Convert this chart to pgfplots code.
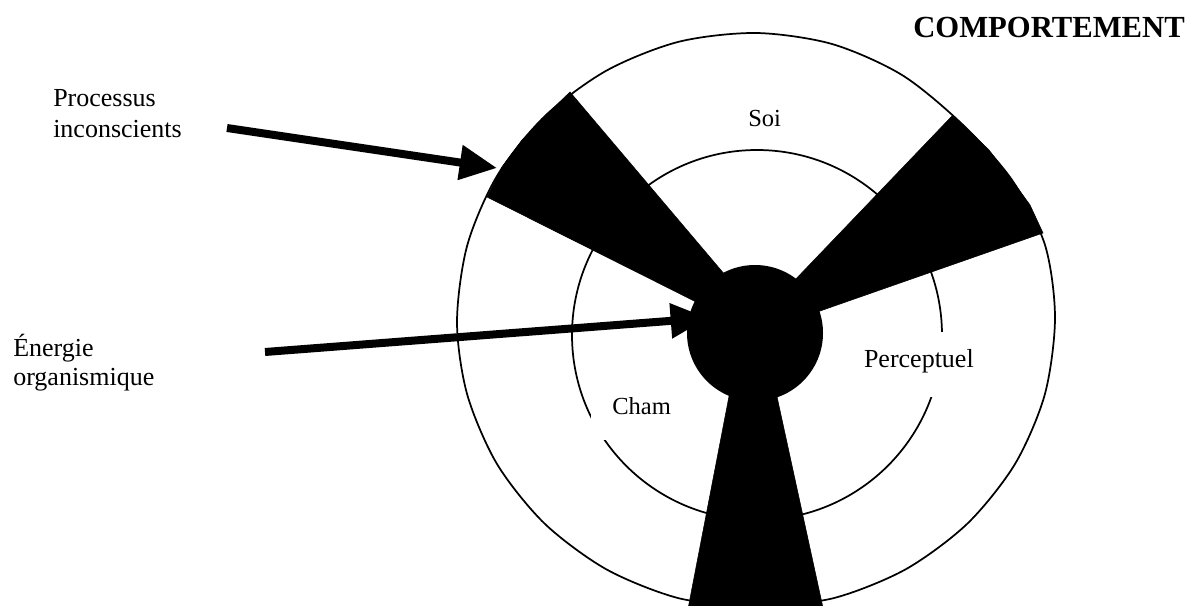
\documentclass[border=0pt]{standalone}
\usepackage{pgfplots}
\pgfplotsset{compat=1.18}
\usepackage{fontspec}
\setmainfont{Liberation Serif}
\usetikzlibrary{arrows.meta}
\begin{document}
\begin{tikzpicture}
\begin{axis}[
  width=902.25pt, height=454.5pt, scale only axis,
  xmin=0, xmax=1203, ymin=0, ymax=606, y dir=reverse,
  axis lines=none, ticks=none, clip=true,
]
% outer circle (slightly irregular, as drawn)
\addplot[smooth, draw=black, line width=1.3pt, mark=none] coordinates {
 (756,608) (833.4,598.2) (905.5,569.4) (967.4,523.6) (1015,464) (1044.8,394.5)
 (1055,318) (1045,245) (1012,180) (962,124) (902,75) (832,44) (756,33)
 (678.6,41.8) (606.5,70.6) (544.6,116.4) (497,176) (467.2,245.5) (457,322)
 (467.2,394.5) (497,464) (544.6,523.6) (606.5,569.4) (678.6,598.2) (756,608)};
% middle circle
\draw[line width=1.3pt] (axis cs:757,335) circle [radius=185];
% white gaps behind labels
\fill[white] (axis cs:591,385) rectangle (axis cs:676,440);
\fill[white] (axis cs:858,332) rectangle (axis cs:980,397);
% wedges
\addplot[fill=black, draw=black] coordinates {(570,92) (545,116) (522,140) (502,167) (487,197) (742,325) (742,295)} --cycle;
\addplot[fill=black, draw=black] coordinates {(952,116) (962,124) (989,150) (1012,180) (1030,205) (1043,233) (780,325) (770,306)} --cycle;
\addplot[fill=black, draw=black] coordinates {(736,360) (769,360) (830,640) (682,640)} --cycle;
% central blob
\fill (axis cs:755,333) circle [radius=68];
% arrows
\draw[line width=6pt, -{Triangle[length=28pt,width=25pt]}] (axis cs:227,128) -- (axis cs:497,168);
\draw[line width=6pt, -{Triangle[length=28pt,width=25pt]}] (axis cs:265,352) -- (axis cs:708,318);
% texts
\node[anchor=base west, inner sep=0pt, font=\bfseries\fontsize{23}{27}\selectfont] at (axis cs:913,38) {COMPORTEMENT};
\node[anchor=base west, inner sep=0pt, align=left, font=\fontsize{19.5}{23.25}\selectfont] at (axis cs:53,138) {Processus\\inconscients};
\node[anchor=base west, inner sep=0pt, align=left, font=\fontsize{19.5}{21.75}\selectfont] at (axis cs:13,385) {Énergie\\organismique};
\node[anchor=base west, inner sep=0pt, font=\fontsize{18.4}{22}\selectfont] at (axis cs:748,127) {Soi};
\node[anchor=base west, inner sep=0pt, font=\fontsize{18.4}{22}\selectfont] at (axis cs:612,414) {Cham};
\node[anchor=base east, inner sep=0pt, font=\fontsize{19.5}{23}\selectfont] at (axis cs:974,367) {Perceptuel};
\end{axis}
\pgfresetboundingbox
\path[use as bounding box] (current axis.south west) rectangle (current axis.north east);
\end{tikzpicture}
\end{document}
